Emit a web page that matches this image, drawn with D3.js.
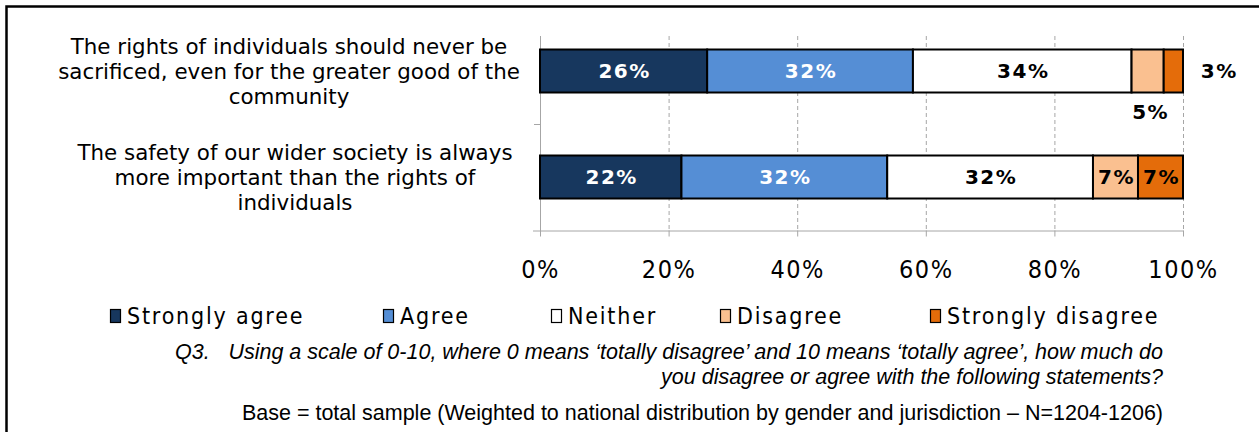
<!DOCTYPE html>
<html>
<head>
<meta charset="utf-8">
<script src="https://cdn.jsdelivr.net/npm/d3@7"></script>
<style>
    body { margin: 0; background: #fff; }
    svg { display: block; }
</style>
</head>
<body>
<div id="chart"></div>
<script>
const statements = [
    ["The rights of individuals should never be", "sacrificed, even for the greater good of the", "community"],
    ["The safety of our wider society is always", "more important than the rights of", "individuals"]
];
const responses = ["Strongly agree", "Agree", "Neither", "Disagree", "Strongly disagree"];
const colours = ["#17375e", "#558ed5", "#ffffff", "#fac090", "#e46c0a"];
const values = [
    [26, 32, 34, 5, 3],
    [22, 32, 32, 7, 7]
];
const ticks = [0, 20, 40, 60, 80, 100];

const width = 1259;
const height = 432;
const svg = d3.select("#chart").append("svg")
    .attr("width", width)
    .attr("height", height);

// frame
svg.append("path")
    .attr("d", "M6.5,432 V6.5 H1259")
    .attr("fill", "none")
    .attr("stroke", "#000")
    .attr("stroke-width", 2.5);

const x = d3.scaleLinear().domain([0, 100]).range([540, 1183]);
const y = d3.scaleBand().domain(d3.range(statements.length)).range([18, 230]).paddingInner(0).paddingOuter(0);
const barH = 43;

// gridlines
svg.selectAll(".grid")
    .data(ticks.slice(1))
    .join("line")
    .attr("x1", d => x(d) + 0.5).attr("x2", d => x(d) + 0.5)
    .attr("y1", 36).attr("y2", 230)
    .attr("stroke", "#a6a6a6")
    .attr("stroke-dasharray", "4,3");

// x axis
const xAxis = svg.append("g")
    .attr("transform", "translate(0,230.5)")
    .call(d3.axisBottom(x).tickValues(ticks).tickSize(6).tickFormat(d => d + "%"));
xAxis.select(".domain").attr("d", "M533,0.5 H1183.5").attr("stroke", "#a6a6a6");
xAxis.selectAll(".tick line").attr("stroke", "#a6a6a6");
xAxis.selectAll(".tick text")
    .attr("y", 47)
    .attr("dy", 0)
    .attr("fill", "#000")
    .style("font-family", "'DejaVu Sans Condensed', 'DejaVu Sans'")
    .style("font-stretch", "condensed")
    .style("font-size", "25px")
    .style("letter-spacing", "1.5px");

// y axis line + category separator tick
svg.append("line")
    .attr("x1", 540.5).attr("x2", 540.5)
    .attr("y1", 36).attr("y2", 236)
    .attr("stroke", "#a6a6a6");
svg.selectAll(".ytick")
    .data(d3.range(1, statements.length))
    .join("line")
    .attr("x1", 534).attr("x2", 540)
    .attr("y1", d => y(d) + 0.5).attr("y2", d => y(d) + 0.5)
    .attr("stroke", "#a6a6a6");

// category labels
svg.selectAll(".cat")
    .data(statements)
    .join("text")
    .attr("text-anchor", "middle")
    .style("font-family", "'DejaVu Sans', Verdana, sans-serif")
    .style("font-size", "21.4px")
    .attr("fill", "#000")
    .each(function(lines, i) {
        const cy = y(i) + y.bandwidth() / 2;
        d3.select(this).selectAll("tspan")
            .data(lines)
            .join("tspan")
            .attr("x", 289 + i * 6)
            .attr("y", (d, j) => cy + (j - 1) * 25 + 8)
            .text(d => d);
    });

// stacked bars
const rows = values.map((vals, i) => {
    let acc = 0;
    return vals.map((v, k) => {
        const seg = {row: i, k: k, v: v, x0: acc, x1: acc + v};
        acc += v;
        return seg;
    });
});

const segs = rows.flat();
svg.selectAll(".seg")
    .data(segs)
    .join("rect")
    .attr("x", d => x(d.x0))
    .attr("y", d => y(d.row) + (y.bandwidth() - barH) / 2)
    .attr("width", d => x(d.x1) - x(d.x0))
    .attr("height", barH)
    .attr("fill", d => colours[d.k])
    .attr("stroke", "#000")
    .attr("stroke-width", 2);

// value labels (small segments of the first bar are moved out)
function labelPos(d) {
    const cx = (x(d.x0) + x(d.x1)) / 2;
    const cy = y(d.row) + y.bandwidth() / 2;
    if (d.v < 6 && d.k === 3) return [cx + 3, cy + 41];
    if (d.v < 6 && d.k === 4) return [cx + 46, cy];
    return [cx + 1, cy];
}
svg.selectAll(".val")
    .data(segs)
    .join("text")
    .attr("x", d => labelPos(d)[0])
    .attr("y", d => labelPos(d)[1] + 7)
    .attr("text-anchor", "middle")
    .attr("fill", d => (d.k < 2 && d.v >= 6) ? "#fff" : "#000")
    .style("font-family", "'DejaVu Sans', Verdana, sans-serif")
    .style("font-weight", "bold")
    .style("font-size", "20px")
    .style("letter-spacing", "1.5px")
    .text(d => d.v + "%");

// legend
const legendX = [110, 383, 551, 720, 930];
const legend = svg.selectAll(".leg")
    .data(responses)
    .join("g")
    .attr("transform", (d, i) => `translate(${legendX[i]},309)`);
legend.append("rect")
    .attr("x", 0.5).attr("y", 0.5)
    .attr("width", 10).attr("height", 13)
    .attr("fill", (d, i) => colours[i])
    .attr("stroke", "#000")
    .attr("stroke-width", 1.2);
legend.append("text")
    .attr("x", 17)
    .attr("y", 15)
    .style("font-family", "'DejaVu Sans Condensed', 'DejaVu Sans'")
    .style("font-stretch", "condensed")
    .style("font-size", "23px")
    .style("letter-spacing", "1.8px")
    .attr("fill", "#000")
    .text(d => d);

// caption
const caption = svg.append("g")
    .style("font-family", "'Liberation Sans', Arial, sans-serif")
    .style("font-size", "21.5px")
    .attr("fill", "#000");
caption.append("text").attr("x", 175).attr("y", 359).style("font-style", "italic").text("Q3.");
caption.append("text").attr("x", 1163).attr("y", 359).attr("text-anchor", "end").style("font-style", "italic")
    .text("Using a scale of 0-10, where 0 means \u2018totally disagree\u2019 and 10 means \u2018totally agree\u2019, how much do");
caption.append("text").attr("x", 1163).attr("y", 384).attr("text-anchor", "end").style("font-style", "italic")
    .text("you disagree or agree with the following statements?");
caption.append("text").attr("x", 1163).attr("y", 420).attr("text-anchor", "end")
    .text("Base = total sample (Weighted to national distribution by gender and jurisdiction \u2013 N=1204-1206)");
</script>
</body>
</html>
